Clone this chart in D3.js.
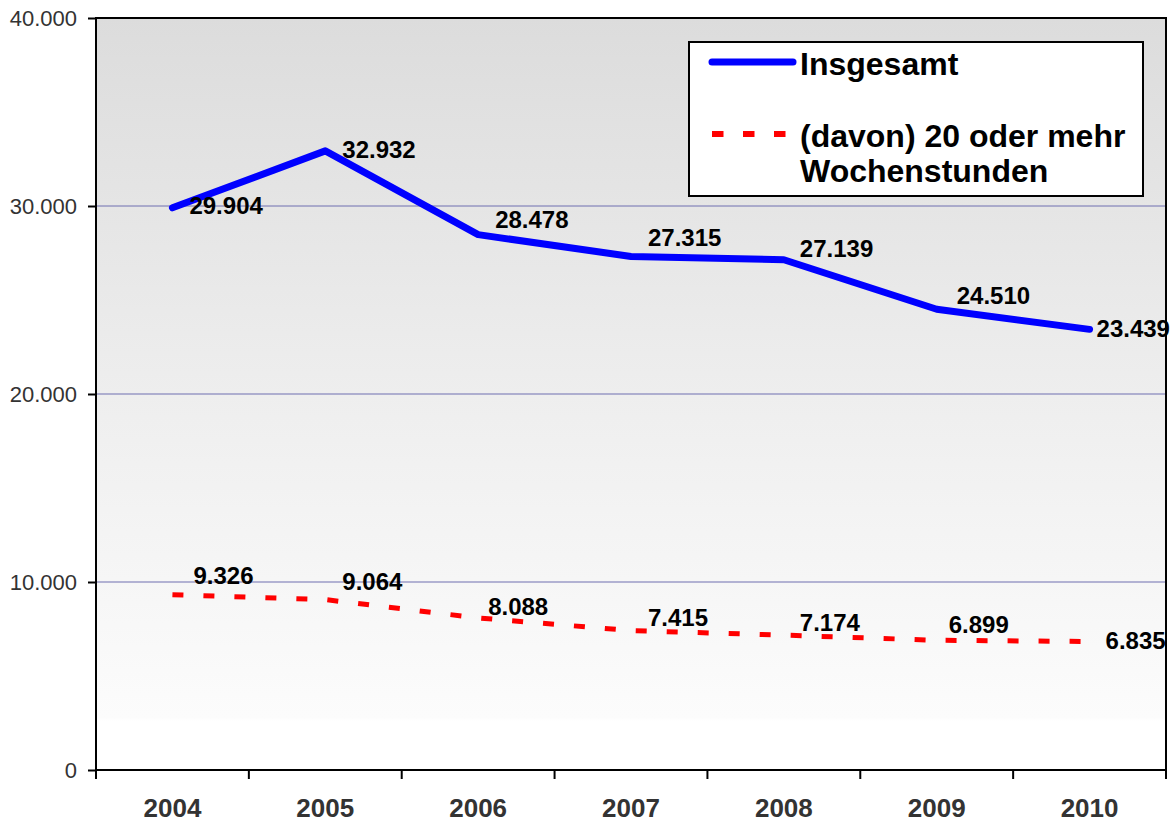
<!DOCTYPE html>
<html lang="de">
<head>
  <meta charset="UTF-8">
  <title>Insgesamt / 20 oder mehr Wochenstunden</title>
  <style>
    body { margin: 0; background: #fff; }
    text { font-family: Arial, "Liberation Sans", sans-serif; }
  </style>
</head>
<body>
  <svg id="chart"></svg>

  <script src="https://d3js.org/d3.v7.min.js"></script>
  <script>
    const years = ["2004", "2005", "2006", "2007", "2008", "2009", "2010"];
    const total = [29904, 32932, 28478, 27315, 27139, 24510, 23439];
    const over20 = [9326, 9064, 8088, 7415, 7174, 6899, 6835];
    const yTicks = [0, 10000, 20000, 30000, 40000];
    const seriesNames = ["Insgesamt", "(davon) 20 oder mehr|Wochenstunden"];

    // label offsets relative to each point (Excel-like placement)
    const totalLabelOff = [[17, -2], [17, -1], [17, -15], [17, -19], [16, -11], [20, -14], [7, -1]];
    const over20LabelOff = [[21, -19], [17, -17.5], [10, -11], [17, -13], [16, -12.5], [12, -16], [16, -1]];

    const W = 1174, H = 825;
    const m = { left: 96, right: 8, top: 18, bottom: 55 };

    const svg = d3.select("#chart")
      .attr("width", W)
      .attr("height", H);

    const fmt = d3.formatLocale({ decimal: ",", thousands: ".", grouping: [3], currency: ["", "€"] }).format(",d");

    const x = d3.scaleBand()
      .domain(years)
      .range([m.left, W - m.right]);

    const y = d3.scaleLinear()
      .domain([0, 40000])
      .range([H - m.bottom, m.top]);

    const defs = svg.append("defs");
    const grad = defs.append("linearGradient")
      .attr("id", "bg")
      .attr("x1", 0).attr("y1", 0).attr("x2", 0).attr("y2", 1);
    grad.append("stop").attr("offset", "0%").attr("stop-color", "#dcdcdc");
    grad.append("stop").attr("offset", "50%").attr("stop-color", "#eeeeee");
    grad.append("stop").attr("offset", "93%").attr("stop-color", "#fcfcfc");
    grad.append("stop").attr("offset", "93.5%").attr("stop-color", "#ffffff");
    grad.append("stop").attr("offset", "100%").attr("stop-color", "#ffffff");

    svg.append("rect")
      .attr("x", m.left).attr("y", m.top)
      .attr("width", W - m.right - m.left)
      .attr("height", H - m.bottom - m.top)
      .attr("fill", "url(#bg)");

    // gridlines
    svg.append("g")
      .selectAll("line")
      .data(yTicks.filter(d => d > 0 && d < 40000))
      .join("line")
      .attr("x1", m.left).attr("x2", W - m.right)
      .attr("y1", d => y(d)).attr("y2", d => y(d))
      .attr("stroke", "#6f6fb0")
      .attr("stroke-width", 1);

    // plot border
    svg.append("path")
      .attr("d", `M${m.left},${H - m.bottom}V${m.top}H${W - m.right}V${H - m.bottom}Z`)
      .attr("fill", "none")
      .attr("stroke", "#000")
      .attr("stroke-width", 2);

    // y axis
    const yAxis = svg.append("g")
      .attr("transform", `translate(${m.left},0)`)
      .call(d3.axisLeft(y).tickValues(yTicks).tickFormat(fmt).tickSize(8).tickPadding(11));
    yAxis.select(".domain").remove();
    yAxis.selectAll(".tick line").attr("stroke", "#000").attr("stroke-width", 2);
    yAxis.selectAll(".tick text")
      .attr("fill", "#333")
      .style("font-size", "22px")
      .attr("dy", "0.35em");

    // x axis: ticks on category boundaries
    const bounds = years.map(d => x(d)).concat([x(years[years.length - 1]) + x.bandwidth()]);
    svg.append("g")
      .selectAll("line")
      .data(bounds)
      .join("line")
      .attr("x1", d => d).attr("x2", d => d)
      .attr("y1", H - m.bottom).attr("y2", H - m.bottom + 9)
      .attr("stroke", "#000")
      .attr("stroke-width", 2);

    svg.append("g")
      .selectAll("text")
      .data(years)
      .join("text")
      .attr("x", d => x(d) + x.bandwidth() / 2)
      .attr("y", 817)
      .attr("text-anchor", "middle")
      .attr("fill", "#333")
      .style("font-size", "26px")
      .style("font-weight", "bold")
      .text(d => d);

    const cx = (d, i) => x(years[i]) + x.bandwidth() / 2;
    const line = d3.line().x(cx).y(d => y(d));

    svg.append("path")
      .datum(total)
      .attr("d", line)
      .attr("fill", "none")
      .attr("stroke", "#0000ff")
      .attr("stroke-width", 7)
      .attr("stroke-linejoin", "round")
      .attr("stroke-linecap", "round");

    svg.append("path")
      .datum(over20)
      .attr("d", line)
      .attr("fill", "none")
      .attr("stroke", "#ff0000")
      .attr("stroke-width", 5)
      .attr("stroke-dasharray", "11 20");

    function labels(data, off) {
      svg.append("g")
        .selectAll("text")
        .data(data)
        .join("text")
        .attr("x", (d, i) => cx(d, i) + off[i][0])
        .attr("y", (d, i) => y(d) + off[i][1])
        .attr("dy", "0.35em")
        .attr("fill", "#000")
        .style("font-size", "24px")
        .style("font-weight", "bold")
        .text(d => fmt(d));
    }
    labels(total, totalLabelOff);
    labels(over20, over20LabelOff);

    // legend
    const lg = svg.append("g").attr("transform", "translate(689,42)");
    lg.append("rect")
      .attr("width", 454).attr("height", 154)
      .attr("fill", "#fff")
      .attr("stroke", "#000")
      .attr("stroke-width", 2);
    lg.append("line")
      .attr("x1", 23).attr("x2", 104).attr("y1", 20).attr("y2", 20)
      .attr("stroke", "#0000ff").attr("stroke-width", 7)
      .attr("stroke-linecap", "round");
    lg.append("text")
      .attr("x", 111).attr("y", 33)
      .style("font-size", "32px").style("font-weight", "bold")
      .attr("fill", "#000")
      .text(seriesNames[0]);
    lg.append("line")
      .attr("x1", 23).attr("x2", 104).attr("y1", 92).attr("y2", 92)
      .attr("stroke", "#ff0000").attr("stroke-width", 6)
      .attr("stroke-dasharray", "11.5 19.5");
    const t2 = lg.append("text")
      .attr("x", 111)
      .style("font-size", "32px").style("font-weight", "bold")
      .attr("fill", "#000");
    seriesNames[1].split("|").forEach((s, i) => {
      t2.append("tspan").attr("x", 111).attr("y", 105 + i * 35).text(s);
    });
  </script>
</body>
</html>
